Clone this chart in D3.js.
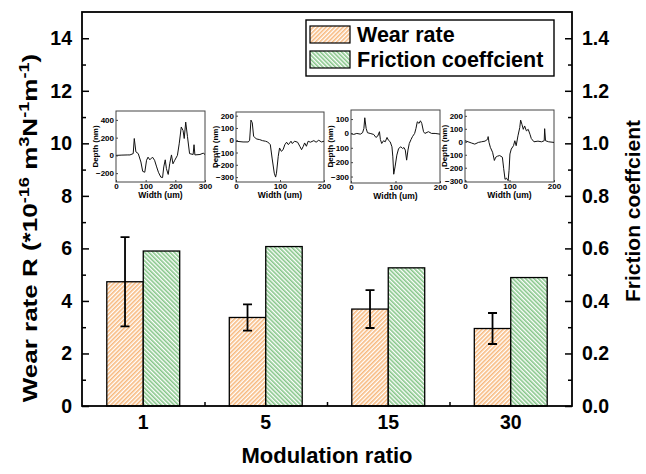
<!DOCTYPE html>
<html>
<head>
<meta charset="utf-8">
<script src="https://cdn.jsdelivr.net/npm/d3@7"></script>
<style>
  body { margin: 0; background: #fff; }
  text { font-family: "Liberation Sans", Arial, sans-serif; font-weight: bold; fill: #000; }
</style>
</head>
<body>
<svg id="chart" width="646" height="474"></svg>
<script>
// chart values
const ratios = ["1", "5", "15", "30"];
const wearRate = [4.73, 3.37, 3.69, 2.95];
const wearErr = [1.70, 0.50, 0.72, 0.59];
const friction = [0.590, 0.607, 0.526, 0.489];
const wearTicks = [0, 2, 4, 6, 8, 10, 12, 14];
const wearMinor = [1, 3, 5, 7, 9, 11, 13];
const frictionTicks = [0, 0.2, 0.4, 0.6, 0.8, 1.0, 1.2, 1.4];
const frictionMinor = [0.1, 0.3, 0.5, 0.7, 0.9, 1.1, 1.3];

// surface profiles of the wear tracks (width um, depth nm)
const profile1 = [[0,0],[20,3],[40,5],[47,5],[58,20],[61.6,190],[67,40],[75,20],[84,-75],[90,-180],[97,-190],[103,-55],[108,-20],[114,-50],[123,-20],[130,-55],[137,-130],[143,-190],[151,-245],[157,-250],[161,-130],[166,-50],[170,-150],[176,-215],[181,-95],[187,5],[192,-95],[198,-55],[207,0],[213,130],[220,320],[226,280],[230,190],[235,375],[241,210],[248,20],[260,10],[263,120],[266,5],[283,10],[294,25],[300,10]];
const profile2 = [[0,-8],[16,-14],[28,-14],[31,0],[34,164],[37,142],[40,33],[46,11],[54,5],[60,-3],[67,-8],[72,-14],[78,-36],[82,-145],[87,-268],[90,-300],[92,-268],[96,-131],[99,-63],[103,-90],[107,-77],[111,-36],[115,-16],[119,-36],[125,-8],[128,-27],[133,-8],[140,-16],[145,-49],[149,-77],[153,-49],[156,-22],[160,-49],[164,-8],[169,-16],[177,-3],[182,-16],[188,0],[194,-14],[200,-8]];
const profile3 = [[0,0],[6,-7],[13,0],[21,-5],[26,5],[29,35],[31,109],[34,35],[37,5],[43,0],[51,-7],[56,-28],[60,-19],[64,12],[66,-42],[69,-70],[73,-51],[77,-58],[81,-28],[84,-47],[88,-58],[92,-93],[94,-163],[96,-284],[99,-233],[103,-151],[107,-105],[112,-93],[116,-105],[119,-98],[122,-116],[125,-186],[128,-116],[131,-70],[135,-42],[138,-23],[143,0],[146,35],[149,81],[153,70],[156,88],[159,70],[163,12],[166,0],[174,12],[181,0],[189,0],[200,-5]];
const profile4 = [[0,8],[7,0],[15,-10],[22,-18],[30,-5],[37,0],[45,5],[51,20],[52,40],[54,-5],[57,-43],[62,-81],[66,-144],[69,-119],[73,-111],[78,-106],[84,-119],[87,-208],[90,-290],[93,-280],[97,-300],[99,-220],[101,-94],[104,-56],[109,-30],[112,8],[115,-30],[119,46],[123,109],[125,167],[128,134],[131,96],[134,122],[138,84],[142,96],[146,58],[149,25],[155,0],[164,5],[172,0],[178,8],[179,101],[181,8],[188,0],[200,-5]];

const insets = [
  { data: profile1, left: 116, right: 205, top: 111, bottom: 182, xDom: [0, 300], yDom: [-300, 500],
    xTicks: [0, 100, 200, 300], yTicks: [-200, 0, 200, 400] },
  { data: profile2, left: 236, right: 324, top: 112, bottom: 182, xDom: [0, 200], yDom: [-340, 230],
    xTicks: [0, 100, 200], yTicks: [-300, -200, -100, 0, 100, 200] },
  { data: profile3, left: 351, right: 440, top: 110, bottom: 183, xDom: [0, 200], yDom: [-345, 163],
    xTicks: [0, 100, 200], yTicks: [-300, -200, -100, 0, 100] },
  { data: profile4, left: 465, right: 554, top: 110, bottom: 182, xDom: [0, 200], yDom: [-310, 245],
    xTicks: [0, 100, 200], yTicks: [-300, -200, -100, 0, 100, 200] }
];

const svg = d3.select("#chart");
const plot = { left: 82, right: 572, top: 12, bottom: 406 };

// hatch patterns
const defs = svg.append("defs");
function hatch(id, color, angle) {
  const p = defs.append("pattern")
    .attr("id", id)
    .attr("patternUnits", "userSpaceOnUse")
    .attr("width", 3).attr("height", 3)
    .attr("patternTransform", `rotate(${angle})`);
  p.append("rect").attr("width", 3).attr("height", 3).attr("fill", "#fff");
  p.append("rect").attr("width", 1.6).attr("height", 3).attr("fill", color);
}
hatch("hatchWear", "#F7B97E", 45);
hatch("hatchFric", "#86C689", -45);

// scales
const x0 = d3.scaleBand().domain(ratios).range([plot.left, plot.right]).padding(0);
const x1 = d3.scaleBand().domain(["wear", "fric"]).range([0, x0.bandwidth()]).paddingOuter(0.68).paddingInner(0);
const yL = d3.scaleLinear().domain([0, 15]).range([plot.bottom, plot.top]);
const yR = d3.scaleLinear().domain([0, 1.5]).range([plot.bottom, plot.top]);

// bars
const groups = svg.append("g").selectAll("g")
  .data(ratios)
  .join("g")
  .attr("transform", d => `translate(${x0(d)},0)`);

groups.append("rect")
  .attr("x", x1("wear"))
  .attr("y", (d, i) => yL(wearRate[i]))
  .attr("width", x1.bandwidth())
  .attr("height", (d, i) => yL(0) - yL(wearRate[i]))
  .attr("fill", "url(#hatchWear)")
  .attr("stroke", "#000").attr("stroke-width", 1.3);

groups.append("rect")
  .attr("x", x1("fric"))
  .attr("y", (d, i) => yR(friction[i]))
  .attr("width", x1.bandwidth())
  .attr("height", (d, i) => yR(0) - yR(friction[i]))
  .attr("fill", "url(#hatchFric)")
  .attr("stroke", "#000").attr("stroke-width", 1.3);

// error bars on wear rate
const ex = x1("wear") + x1.bandwidth() / 2;
groups.append("path")
  .attr("d", (d, i) => {
    const t = yL(wearRate[i] + wearErr[i]), b = yL(wearRate[i] - wearErr[i]);
    return `M${ex},${t}V${b}M${ex - 4.5},${t}H${ex + 4.5}M${ex - 4.5},${b}H${ex + 4.5}`;
  })
  .attr("stroke", "#000").attr("stroke-width", 1.8).attr("fill", "none");

// frame
svg.append("rect")
  .attr("x", plot.left).attr("y", plot.top)
  .attr("width", plot.right - plot.left).attr("height", plot.bottom - plot.top)
  .attr("fill", "none").attr("stroke", "#000").attr("stroke-width", 1.8);

// left axis
const fmtAxis = g => {
  g.select(".domain").remove();
  g.selectAll("line").attr("stroke", "#000").attr("stroke-width", 1.5);
  g.selectAll("text").attr("font-size", 19.5).attr("font-family", null);
};
svg.append("g").attr("transform", `translate(${plot.left},0)`)
  .call(d3.axisLeft(yL).tickValues(wearTicks).tickSize(-7).tickPadding(10).tickFormat(d3.format("d")))
  .call(fmtAxis);
svg.append("g").attr("transform", `translate(${plot.left},0)`)
  .call(d3.axisLeft(yL).tickValues(wearMinor).tickSize(-4).tickFormat(""))
  .call(fmtAxis);

// right axis
svg.append("g").attr("transform", `translate(${plot.right},0)`)
  .call(d3.axisRight(yR).tickValues(frictionTicks).tickSize(-7).tickPadding(10).tickFormat(d3.format(".1f")))
  .call(fmtAxis);
svg.append("g").attr("transform", `translate(${plot.right},0)`)
  .call(d3.axisRight(yR).tickValues(frictionMinor).tickSize(-4).tickFormat(""))
  .call(fmtAxis);

// bottom axis: category labels + minor ticks between groups
svg.append("g").attr("transform", `translate(0,${plot.bottom})`)
  .call(d3.axisBottom(x0).tickSize(0).tickPadding(9))
  .call(fmtAxis);
const xIdx = d3.scaleLinear().domain([0, ratios.length]).range([plot.left, plot.right]);
svg.append("g").attr("transform", `translate(0,${plot.bottom})`)
  .call(d3.axisBottom(xIdx).tickValues(d3.range(1, ratios.length)).tickSize(-4).tickFormat(""))
  .call(fmtAxis);

// axis titles
svg.append("text")
  .attr("x", (plot.left + plot.right) / 2).attr("y", 463)
  .attr("text-anchor", "middle").attr("font-size", 22)
  .text("Modulation ratio");

// left title, stretched along its reading direction like the source figure
const lt = svg.append("text")
  .attr("transform", "translate(37,228) rotate(-90) scale(1.3,1)")
  .attr("text-anchor", "middle").attr("font-size", 20);
[["Wear rate R (*10", 0], ["-16", 1], [" m", 0], ["3", 1], ["N", 0], ["-1", 1], ["m", 0], ["-1", 1], [")", 0]]
  .forEach(([s, sup]) => {
    lt.append("tspan")
      .attr("font-size", sup ? 14 : 20)
      .attr("baseline-shift", sup ? "super" : null)
      .text(s);
  });

svg.append("text")
  .attr("transform", "translate(640,211) rotate(-90)")
  .attr("text-anchor", "middle").attr("font-size", 21)
  .text("Friction coeffcient");

// legend
const legend = svg.append("g");
legend.append("rect")
  .attr("x", 306).attr("y", 20).attr("width", 248).attr("height", 56)
  .attr("fill", "#fff").attr("stroke", "#000").attr("stroke-width", 1.4);
[["hatchWear", "Wear rate"], ["hatchFric", "Friction coeffcient"]].forEach(([pat, label], i) => {
  legend.append("rect")
    .attr("x", 310).attr("y", 26 + i * 25).attr("width", 40).attr("height", 17)
    .attr("fill", `url(#${pat})`).attr("stroke", "#000").attr("stroke-width", 1.2);
  legend.append("text")
    .attr("x", 357).attr("y", 42 + i * 25).attr("font-size", 21.5)
    .text(label);
});

// insets
insets.forEach(cfg => {
  const g = svg.append("g");
  const xs = d3.scaleLinear().domain(cfg.xDom).range([cfg.left, cfg.right]);
  const ys = d3.scaleLinear().domain(cfg.yDom).range([cfg.bottom, cfg.top]);
  g.append("rect")
    .attr("x", cfg.left).attr("y", cfg.top)
    .attr("width", cfg.right - cfg.left).attr("height", cfg.bottom - cfg.top)
    .attr("fill", "#fff").attr("stroke", "#444").attr("stroke-width", 1);
  g.append("path")
    .datum(cfg.data)
    .attr("d", d3.line().x(d => xs(d[0])).y(d => ys(d[1])))
    .attr("fill", "none").attr("stroke", "#111").attr("stroke-width", 1);
  const small = a => {
    a.select(".domain").remove();
    a.selectAll("line").attr("stroke", "#444");
    a.selectAll("text").attr("font-size", 8).attr("font-family", null);
  };
  g.append("g").attr("transform", `translate(${cfg.left},0)`)
    .call(d3.axisLeft(ys).tickValues(cfg.yTicks).tickSize(-2).tickPadding(2))
    .call(small);
  g.append("g").attr("transform", `translate(0,${cfg.bottom})`)
    .call(d3.axisBottom(xs).tickValues(cfg.xTicks).tickSize(-2).tickPadding(1.5))
    .call(small);
  g.append("text")
    .attr("x", (cfg.left + cfg.right) / 2).attr("y", cfg.bottom + 16)
    .attr("text-anchor", "middle").attr("font-size", 8.5)
    .text("Width (um)");
  g.append("text")
    .attr("transform", `translate(${cfg.left - 18},${(cfg.top + cfg.bottom) / 2}) rotate(-90)`)
    .attr("text-anchor", "middle").attr("font-size", 8)
    .text("Depth (nm)");
});
</script>
</body>
</html>
